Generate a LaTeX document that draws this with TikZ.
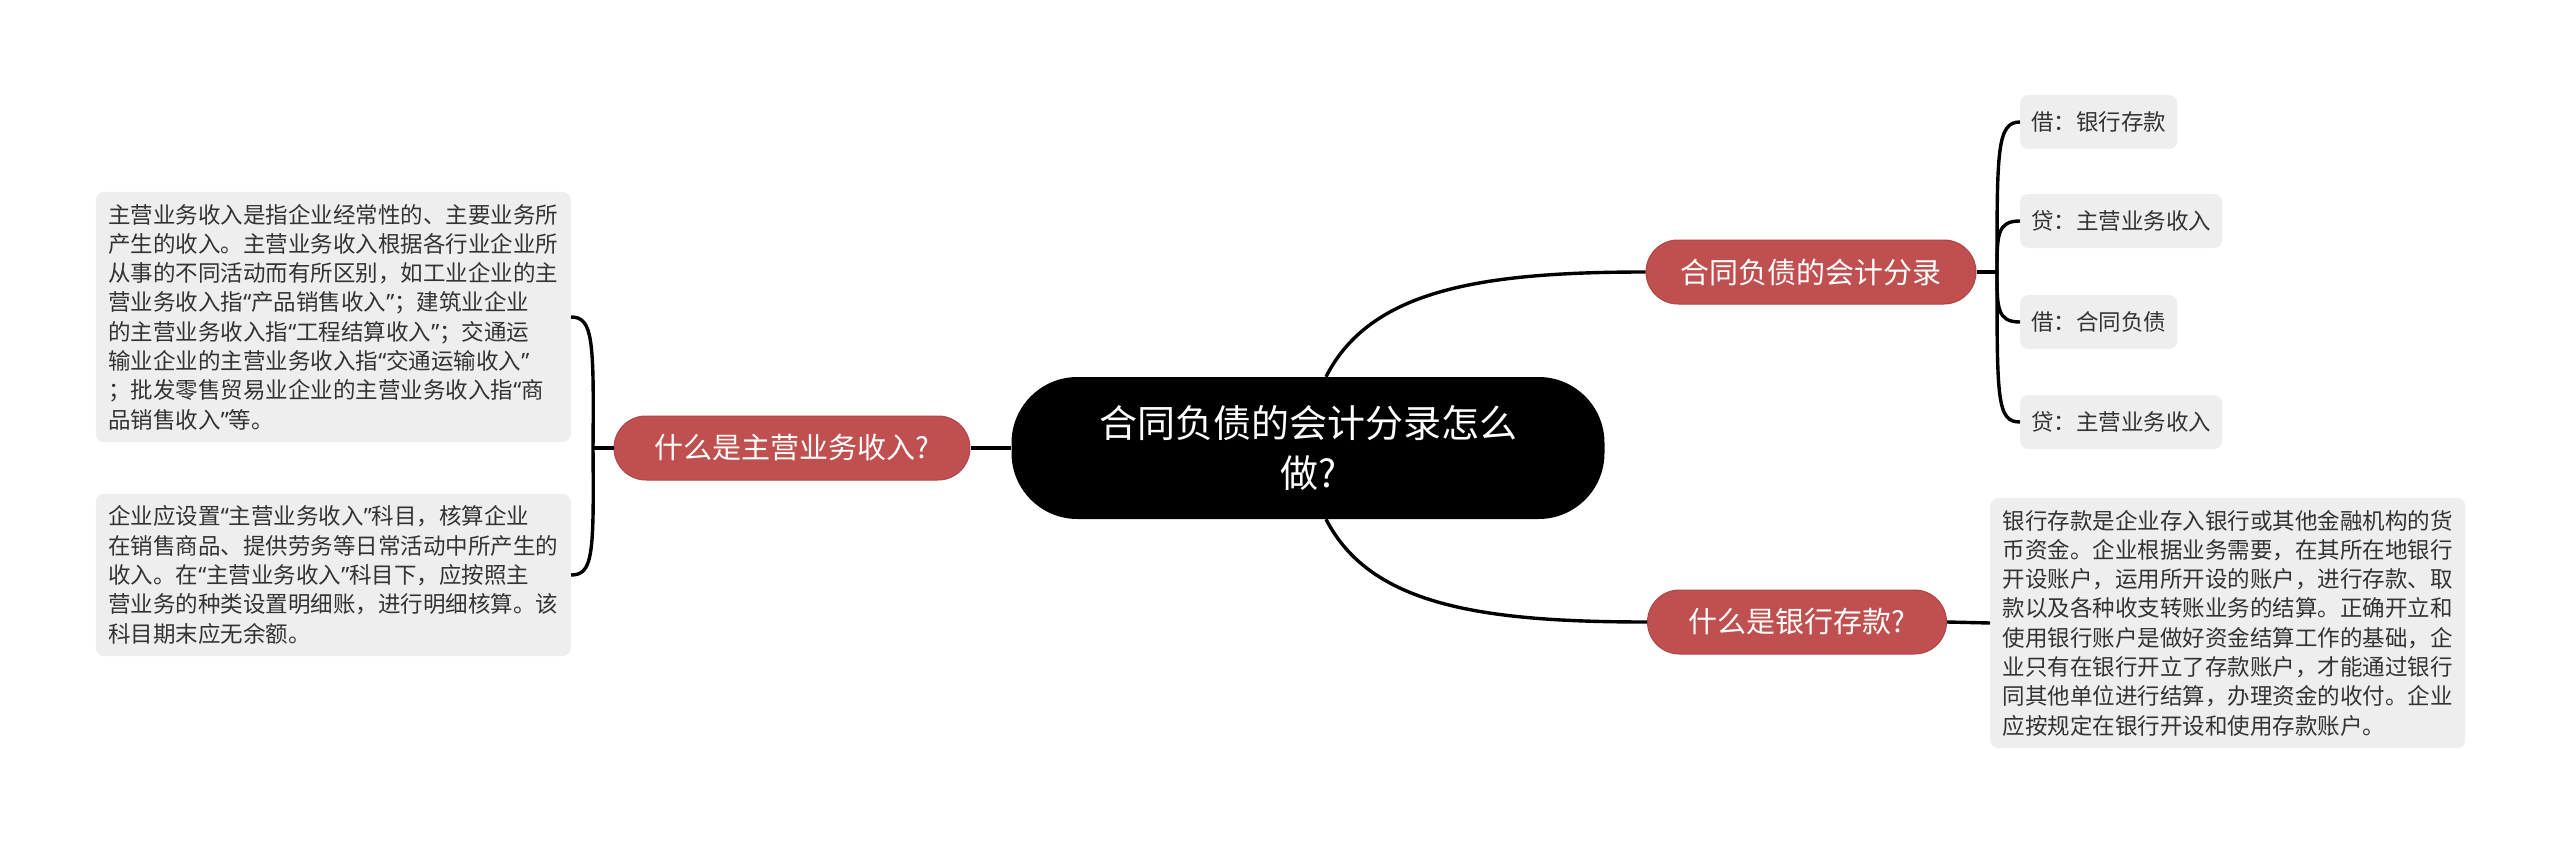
\documentclass[tikz,border=0pt]{standalone}
\usepackage{fontspec}
\setmainfont{Noto Sans CJK SC}
\newfontfamily\qfont{Noto Sans}
\newcommand\oq{{\qfont “}}
\newcommand\cq{{\qfont ”}}
\definecolor{redfill}{HTML}{C0504F}
\definecolor{redline}{HTML}{B04545}
\definecolor{leafgray}{HTML}{EEEEEE}
\definecolor{textgray}{HTML}{333333}
\begin{document}
\begin{tikzpicture}[x=1pt,y=-1pt,
  root/.style={fill=black, text=white, rounded corners=66pt, minimum width=593pt, minimum height=142pt, align=center, font=\fontsize{38}{50}\selectfont, inner sep=0pt},
  branch/.style={fill=redfill, draw=redline, line width=1pt, text=white, rounded corners=32pt, minimum height=64pt, font=\fontsize{29}{35}\selectfont, inner sep=0pt},
  leaf/.style={fill=leafgray, rounded corners=8pt, text=textgray, font=\fontsize{22.5}{29.3}\selectfont, minimum height=54pt, inner xsep=11pt, inner ysep=0pt, anchor=west},
  note/.style={fill=leafgray, rounded corners=8pt, text=textgray, font=\fontsize{22.5}{29.3}\selectfont, align=left, inner xsep=12.5pt, inner ysep=12pt},
  conn/.style={line width=3.4pt, draw=black}]
\useasboundingbox (0,0) rectangle (2560,848);

\node[root] (c) at (1308,448) {合同负债的会计分录怎么\\做?};
\node[branch, minimum width=356pt] (l) at (792,448) {什么是主营业务收入?};
\node[branch, minimum width=330pt] (rt) at (1811,272) {合同负债的会计分录};
\node[branch, minimum width=299pt] (rb) at (1797,622) {什么是银行存款?};

\node[leaf] (a1) at (2020,122) {借：银行存款};
\node[leaf] (a2) at (2020,221) {贷：主营业务收入};
\node[leaf] (a3) at (2020,322) {借：合同负债};
\node[leaf] (a4) at (2020,422) {贷：主营业务收入};

\node[note, anchor=west] (nb) at (1990,623) {银行存款是企业存入银行或其他金融机构的货\\币资金。企业根据业务需要，在其所在地银行\\开设账户，运用所开设的账户，进行存款、取\\款以及各种收支转账业务的结算。正确开立和\\使用银行账户是做好资金结算工作的基础，企\\业只有在银行开立了存款账户，才能通过银行\\同其他单位进行结算，办理资金的收付。企业\\应按规定在银行开设和使用存款账户。};

\node[note, anchor=east, minimum width=475pt] (n1) at (571,317) {主营业务收入是指企业经常性的、主要业务所\\产生的收入。主营业务收入根据各行业企业所\\从事的不同活动而有所区别，如工业企业的主\\营业务收入指\oq 产品销售收入\cq ；建筑业企业\\的主营业务收入指\oq 工程结算收入\cq ；交通运\\输业企业的主营业务收入指\oq 交通运输收入\cq\\；批发零售贸易业企业的主营业务收入指\oq 商\\品销售收入\cq 等。};

\node[note, anchor=east, minimum width=475pt] (n2) at (571,575) {企业应设置\oq 主营业务收入\cq 科目，核算企业\\在销售商品、提供劳务等日常活动中所产生的\\收入。在\oq 主营业务收入\cq 科目下，应按照主\\营业务的种类设置明细账，进行明细核算。该\\科目期末应无余额。};

% connectors
\draw[conn] (c.west) -- (l.east);
\coordinate (lb) at (593,448);
\draw[conn] (l.west) -- (lb);
\draw[conn] (lb) .. controls (594,340) and (593,317) .. (n1.east);
\draw[conn] (lb) .. controls (594,555) and (593,575) .. (n2.east);

\draw[conn] ([xshift=18pt]c.north) .. controls (1370,290) and (1480,272) .. (rt.west);
\draw[conn] ([xshift=18pt]c.south) .. controls (1370,605) and (1480,622) .. (rb.west);
\draw[conn] (rb.east) -- (nb.west);

\coordinate (rs) at (1997,272);
\draw[conn] (rt.east) -- (rs);
\draw[conn] (rs) .. controls (1997,150) and (1997,122) .. (a1.west);
\draw[conn] (rs) .. controls (1997,235) and (1997,221) .. (a2.west);
\draw[conn] (rs) .. controls (1997,308) and (1997,322) .. (a3.west);
\draw[conn] (rs) .. controls (1997,400) and (1997,422) .. (a4.west);
\end{tikzpicture}
\end{document}
